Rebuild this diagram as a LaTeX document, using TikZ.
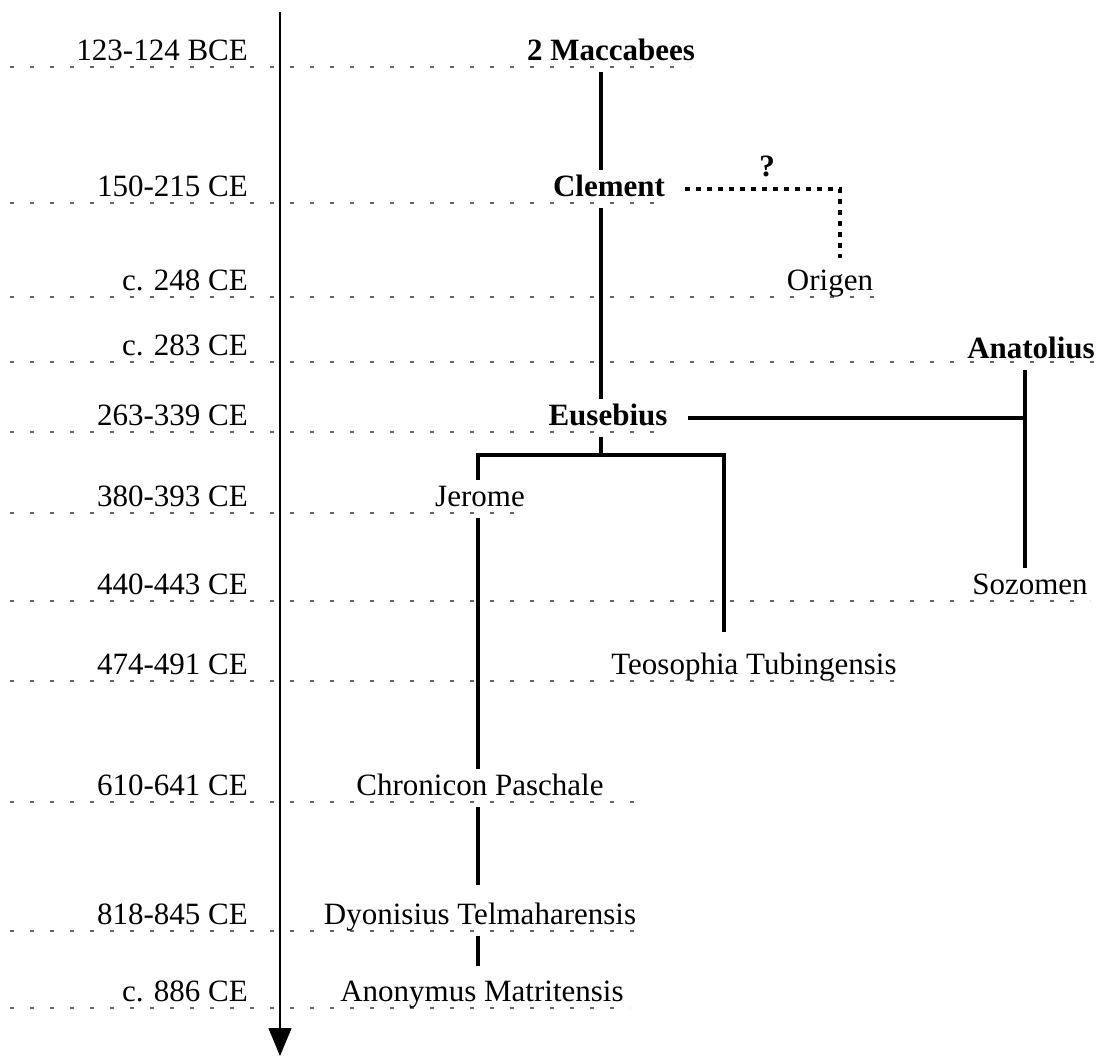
\documentclass[tikz,border=0pt]{standalone}
\usepackage{fontspec}
\setmainfont{Liberation Serif}
\usetikzlibrary{arrows.meta}
\begin{document}
\begin{tikzpicture}[x=1pt,y=-1pt,
  every node/.style={font=\fontsize{31}{37}\selectfont, inner xsep=0pt, inner ysep=5pt, text height=21pt, text depth=7pt},
  lbl/.style={anchor=base east},
  ms/.style={anchor=base},
  bms/.style={anchor=base, font=\fontsize{31}{37}\selectfont\bfseries},
  gridline/.style={black!60, line width=1.1pt, dash pattern=on 4pt off 16pt},
  conn/.style={line width=4pt},
  unsure/.style={line width=3.5pt, dash pattern=on 5pt off 6pt},
  axisline/.style={line width=1.5pt, -{Triangle[width=23pt,length=28pt]}}]
\useasboundingbox (0,0) rectangle (1102,1057);

% time rows
\foreach \y/\e in {67/690, 203/665, 297/875, 362/1098, 432/668, 513/525, 601/1090, 681/900, 802/637, 931/640, 1008/630}
  \draw[gridline] (10,\y) -- (\e,\y);

\node[lbl] (d1) at (248,60) {123-124 BCE};
\node[lbl] (d2) at (248,196) {150-215 CE};
\node[lbl] (d3) at (248,290) {c. 248 CE};
\node[lbl] (d4) at (248,355) {c. 283 CE};
\node[lbl] (d5) at (248,425) {263-339 CE};
\node[lbl] (d6) at (248,506) {380-393 CE};
\node[lbl] (d7) at (248,594) {440-443 CE};
\node[lbl] (d8) at (248,674) {474-491 CE};
\node[lbl] (d9) at (248,795) {610-641 CE};
\node[lbl] (d10) at (248,924) {818-845 CE};
\node[lbl] (d11) at (248,1001) {c. 886 CE};

% axis
\coordinate (axtop) at (280,12);
\coordinate (axbot) at (280,1056);
\draw[axisline] (axtop) -- (axbot);

% works
\node[bms] (mac) at (611,60) {2 Maccabees};
\node[bms] (clem) at (609,196) {Clement};
\node[ms] (orig) at (830,290) {Origen};
\node[bms] (anat) at (1031,358) {Anatolius};
\node[bms] (eus) at (608,425) {Eusebius};
\node[ms] (jer) at (480,506) {Jerome};
\node[ms] (soz) at (1030,594) {Sozomen};
\node[ms] (teo) at (754,674) {Teosophia Tubingensis};
\node[ms] (chr) at (480,795) {Chronicon Paschale};
\node[ms] (dyo) at (480,924) {Dyonisius Telmaharensis};
\node[ms] (ano) at (482,1001) {Anonymus Matritensis};
\node[bms] (q) at (767,176) {?};

\coordinate (tx) at (601,0);
\coordinate (jx) at (478,0);
\coordinate (rx) at (724,0);
\coordinate (ax) at (1025,0);
\coordinate (ox) at (840,0);
\coordinate (split) at (601,455);

\draw[conn] (mac.south -| tx) -- (clem.north -| tx);
\draw[conn] (clem.south -| tx) -- (eus.north -| tx);
\draw[conn] (eus.south -| tx) -- (split);
\draw[conn] (jer.north -| jx) |- (split) -| ([yshift=16pt]teo.north -| rx);
\draw[conn] (jer.south -| jx) -- (chr.north -| jx);
\draw[conn] (chr.south -| jx) -- ([yshift=13pt]dyo.north -| jx);
\draw[conn] (dyo.south -| jx) -- ([yshift=9pt]ano.north -| jx);
\draw[conn] ([xshift=20pt]eus.east) -- (eus.east -| ax);
\draw[conn] (anat.south -| ax) -- (soz.north -| ax);
\draw[unsure] ([xshift=20pt]clem.east) -| ([yshift=6pt]orig.north -| ox);
\end{tikzpicture}
\end{document}
